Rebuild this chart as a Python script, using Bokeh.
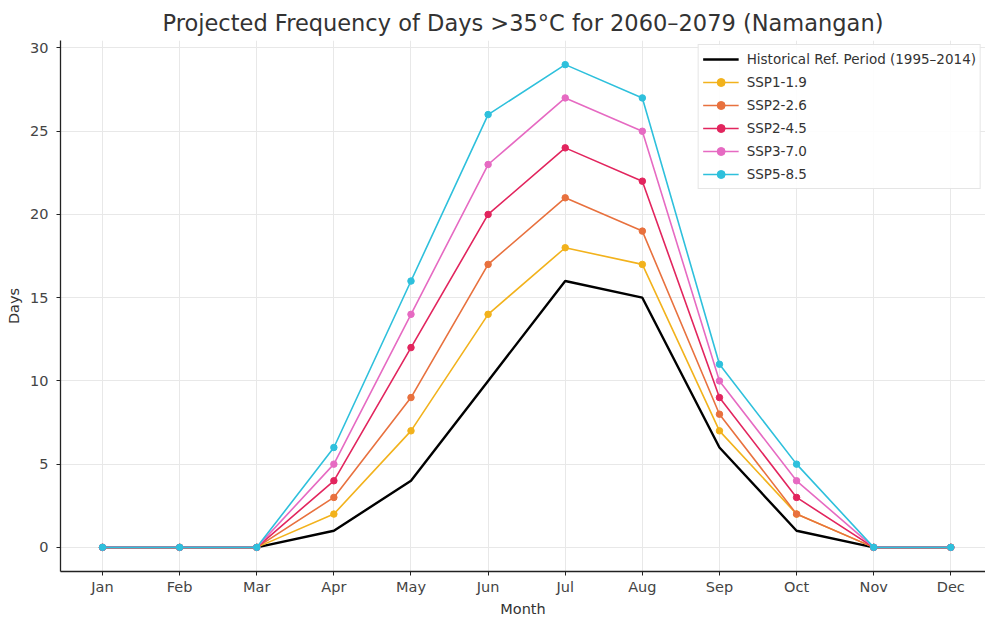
from bokeh.plotting import figure
from bokeh.models import Range1d, FixedTicker, Legend, LegendItem
from bokeh.embed import file_html
from bokeh.resources import INLINE

months = ["Jan", "Feb", "Mar", "Apr", "May", "Jun", "Jul", "Aug", "Sep", "Oct", "Nov", "Dec"]
historical = [0, 0, 0, 1, 4, 10, 16, 15, 6, 1, 0, 0]
ssp119 = [0, 0, 0, 2, 7, 14, 18, 17, 7, 2, 0, 0]
ssp126 = [0, 0, 0, 3, 9, 17, 21, 19, 8, 2, 0, 0]
ssp245 = [0, 0, 0, 4, 12, 20, 24, 22, 9, 3, 0, 0]
ssp370 = [0, 0, 0, 5, 14, 23, 27, 25, 10, 4, 0, 0]
ssp585 = [0, 0, 0, 6, 16, 26, 29, 27, 11, 5, 0, 0]
y_ticks = [0, 5, 10, 15, 20, 25, 30]

FONT = "DejaVu Sans"
x = list(range(len(months)))

p = figure(width=985, height=619, output_backend="svg", toolbar_location=None,
           title="Projected Frequency of Days >35°C for 2060–2079 (Namangan)",
           x_range=Range1d(-0.545, 11.45), y_range=Range1d(-1.45, 30.45),
           min_border_left=60, min_border_right=0, min_border_top=40, min_border_bottom=47)
p.outline_line_color = None
p.background_fill_color = "white"
p.border_fill_color = "white"

p.title.text_font = FONT
p.title.text_font_size = "22.5px"
p.title.text_font_style = "normal"
p.title.text_color = "#333333"
p.title.align = "center"
p.title.offset = 8

p.xaxis.ticker = FixedTicker(ticks=x)
p.xaxis.major_label_overrides = {i: m for i, m in enumerate(months)}
p.yaxis.ticker = FixedTicker(ticks=y_ticks)
for ax in (p.xaxis, p.yaxis):
    ax.axis_line_color = "#222222"
    ax.axis_line_width = 1.3
    ax.major_tick_line_color = "#222222"
    ax.major_tick_out = 4
    ax.major_tick_in = 0
    ax.minor_tick_line_color = None
    ax.major_label_text_font = FONT
    ax.major_label_text_font_size = "14.5px"
    ax.major_label_text_color = "#444444"
    ax.axis_label_text_font = FONT
    ax.axis_label_text_font_size = "14.5px"
    ax.axis_label_text_font_style = "normal"
    ax.axis_label_text_color = "#333333"
p.xaxis.axis_label = "Month"
p.yaxis.axis_label = "Days"
p.xaxis.major_label_standoff = 3
p.xaxis.axis_label_standoff = 3
p.yaxis.major_label_standoff = 8
p.yaxis.axis_label_standoff = 5

p.xgrid.grid_line_color = "#e8e8e8"
p.ygrid.grid_line_color = "#e8e8e8"
p.xgrid.grid_line_width = 1
p.ygrid.grid_line_width = 1

items = []
r = p.line(x, historical, line_color="black", line_width=2.4)
items.append(LegendItem(label="Historical Ref. Period (1995–2014)", renderers=[r]))

series = [
    ("SSP1-1.9", ssp119, "#F2B21C"),
    ("SSP2-2.6", ssp126, "#E8713E"),
    ("SSP2-4.5", ssp245, "#E2255E"),
    ("SSP3-7.0", ssp370, "#E66AC2"),
    ("SSP5-8.5", ssp585, "#2EC0DC"),
]
for name, vals, col in series:
    l = p.line(x, vals, line_color=col, line_width=1.6)
    c = p.scatter(x, vals, size=6.5, fill_color=col, line_color=col)
    items.append(LegendItem(label=name, renderers=[l, c]))

legend = Legend(items=items, location="top_right")
legend.label_text_font = FONT
legend.label_text_font_size = "13.5px"
legend.label_text_color = "#333333"
legend.border_line_color = "#cccccc"
legend.border_line_width = 1
legend.background_fill_color = "white"
legend.background_fill_alpha = 0.9
legend.spacing = 3
legend.padding = 4
legend.margin = 4
legend.glyph_width = 36
legend.glyph_height = 20
legend.label_height = 20
legend.label_standoff = 8
p.add_layout(legend)

open("out.html", "w").write(file_html(p, INLINE))
